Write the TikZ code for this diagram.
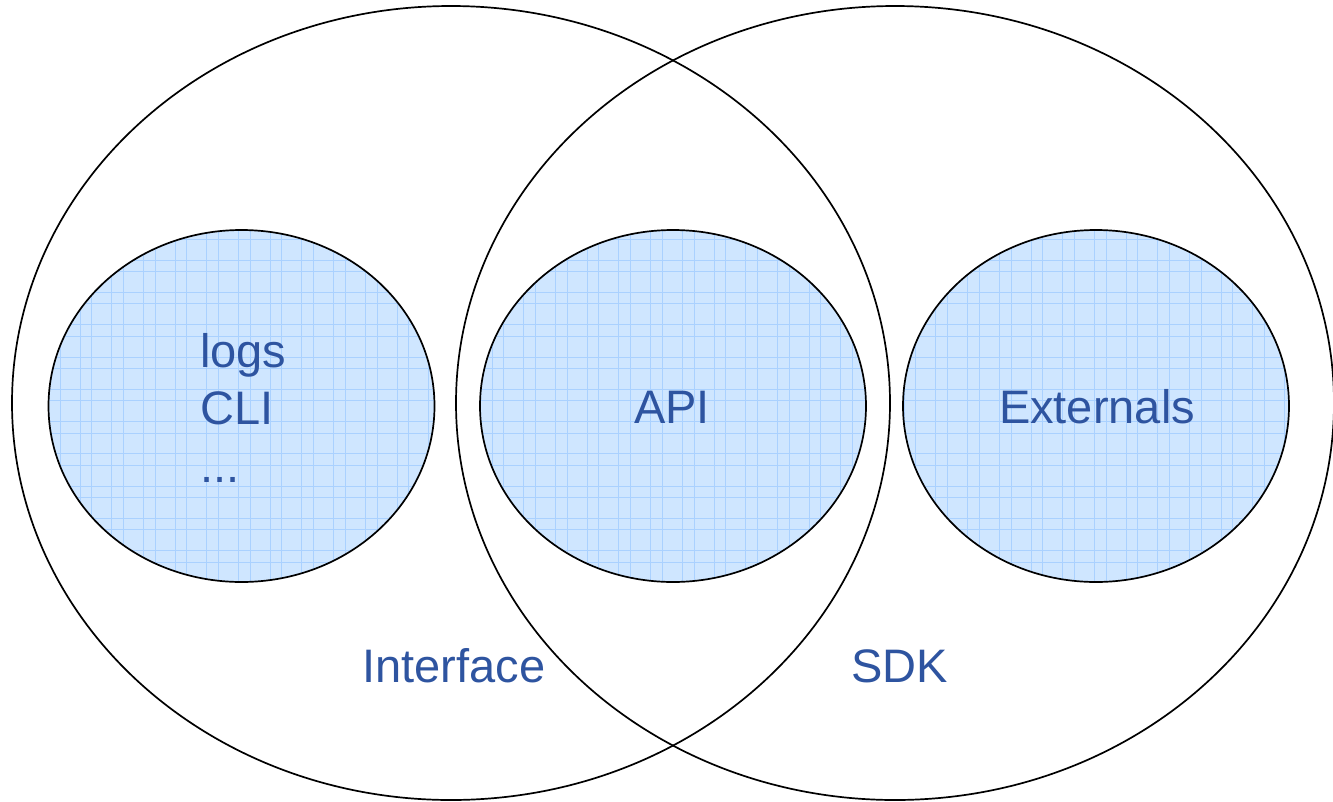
\documentclass[tikz,border=0pt]{standalone}
\usepackage{fontspec}
\setmainfont{Liberation Sans}
\usetikzlibrary{shapes.geometric}
\definecolor{txtblue}{RGB}{46,84,160}
\definecolor{fillblue}{RGB}{207,230,255}
\definecolor{gridblue}{RGB}{170,209,255}
\begin{document}
\begin{tikzpicture}[x=1pt,y=-1pt]
\tikzset{
  bigell/.style={ellipse,draw=black,line width=1.7pt,inner sep=0pt,minimum width=878pt,minimum height=794pt},
  smallell/.style={ellipse,draw=black,line width=1.7pt,inner sep=0pt,minimum width=386pt,minimum height=352pt},
  lbl/.style={text=txtblue,inner sep=0pt,font=\fontsize{47}{57}\selectfont},
  gridline/.style={draw=gridblue,line width=0.9pt}
}
\useasboundingbox (0,0) rectangle (1333,801);
\fill[white] (0,0) rectangle (1333,801);
% big sets
\node[bigell] (iface) at (451,403) {};
\node[bigell] (sdk) at (895,403) {};
% inner fills
\fill[fillblue] (241.5,406) ellipse [x radius=193, y radius=176];
\fill[fillblue] (673,406) ellipse [x radius=193, y radius=176];
\fill[fillblue] (1096,406) ellipse [x radius=193, y radius=176];
\begin{scope}
  \clip (241.5,406) ellipse [x radius=193, y radius=176]
        (673,406) ellipse [x radius=193, y radius=176]
        (1096,406) ellipse [x radius=193, y radius=176];
  \foreach \k in {0,...,42} {
    \draw[gridline] ({16.6+31.7*\k},200) -- ({16.6+31.7*\k},610);
    \draw[gridline] ({28.3+31.7*\k},200) -- ({28.3+31.7*\k},610);
  }
  \foreach \k in {0,...,13} {
    \draw[gridline] (40,{195.5+32.3*\k}) -- (1300,{195.5+32.3*\k});
    \draw[gridline] (40,{206.9+32.3*\k}) -- (1300,{206.9+32.3*\k});
  }
\end{scope}
% inner borders
\node[smallell] (tools) at (241.5,406) {};
\node[smallell] (api) at (673,406) {};
\node[smallell] (ext) at (1096,406) {};
% labels
\node[lbl,anchor=base west] (logs) at (200,367) {logs};
\node[lbl,anchor=base west] (cli) at (200,424) {CLI};
\node[lbl,anchor=base west] (dots) at (200,482) {...};
\node[lbl,anchor=base] (apil) at (672,423) {API};
\node[lbl,anchor=base] (extl) at (1097,423) {Externals};
\node[lbl,anchor=base] (ifacel) at (454,682) {Interface};
\node[lbl,anchor=base] (sdkl) at (899.5,682) {SDK};
\end{tikzpicture}
\end{document}
